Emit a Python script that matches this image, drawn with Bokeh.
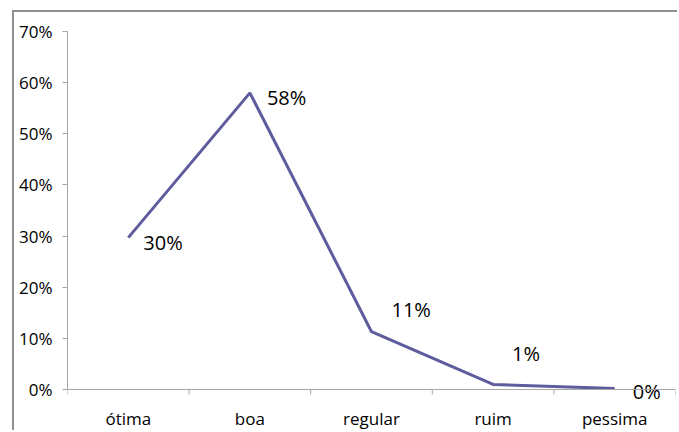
import numpy as np
from bokeh.plotting import figure
from bokeh.models import FixedTicker, NumeralTickFormatter, Range1d, ColumnDataSource, Span
from bokeh.core.properties import value
from bokeh.embed import file_html
from bokeh.resources import INLINE

categories = ["ótima", "boa", "regular", "ruim", "pessima"]
values = [0.297, 0.58, 0.113, 0.01, 0.002]
value_labels = ["30%", "58%", "11%", "1%", "0%"]
y_ticks = [0.0, 0.1, 0.2, 0.3, 0.4, 0.5, 0.6, 0.7]

# label placement offsets (screen pixels, positive = down) - style only
label_dx = [15, 17, 20, 19, 18]
label_dy = [5, 5, -22, -31, 3]

FONT = "Open Sans"
LINE_COLOR = "#5E5C9D"
AXIS_COLOR = "#A6A6A6"

n = len(categories)
xs = np.arange(n) + 0.5
bounds_x = np.arange(n + 1)

# frame extends below the 0 baseline so labels under the axis are not clipped
p = figure(width=665, height=420, output_backend="svg", toolbar_location=None,
           x_range=Range1d(0, n), y_range=Range1d(-0.0841, 0.7),
           x_axis_location=None,
           min_border_left=53, min_border_right=4, min_border_top=19, min_border_bottom=0)
p.margin = (10, 0, 0, 12)
p.styles = {"border-left": "2px solid #8F8F8F", "border-top": "2px solid #8F8F8F"}
p.outline_line_color = None
p.grid.visible = False
p.background_fill_color = "white"
p.border_fill_color = "white"

# y axis
p.yaxis.bounds = (0, 0.7)
p.yaxis.ticker = FixedTicker(ticks=y_ticks, minor_ticks=[])
p.yaxis.formatter = NumeralTickFormatter(format="0%")
p.yaxis.major_tick_out = 5
p.yaxis.major_tick_in = 0
p.yaxis.major_tick_line_color = AXIS_COLOR
p.yaxis.axis_line_color = AXIS_COLOR
p.yaxis.major_label_standoff = 10
p.yaxis.major_label_text_font = FONT
p.yaxis.major_label_text_font_size = "17px"
p.yaxis.major_label_text_color = "black"

# category (x) axis drawn at y = 0
p.add_layout(Span(location=0, dimension="width", line_color=AXIS_COLOR, line_width=1))
p.ray(x=bounds_x, y=np.zeros(n + 1), length=5, length_units="screen", angle=-np.pi / 2,
      line_color=AXIS_COLOR, line_width=1)
p.text(x=xs, y=np.zeros(n), text=categories, y_offset=29,
       text_font=value(FONT), text_font_size="17px", text_color="black",
       text_align="center", text_baseline="middle")

src = ColumnDataSource(dict(x=xs, y=values, lab=value_labels, dx=label_dx, dy=label_dy))
p.line("x", "y", source=src, line_color=LINE_COLOR, line_width=3)
p.text("x", "y", text="lab", source=src, x_offset="dx", y_offset="dy",
       text_font=value(FONT), text_font_size="20px", text_color="black",
       text_align="left", text_baseline="middle")

open("out.html", "w").write(file_html(p, INLINE))
